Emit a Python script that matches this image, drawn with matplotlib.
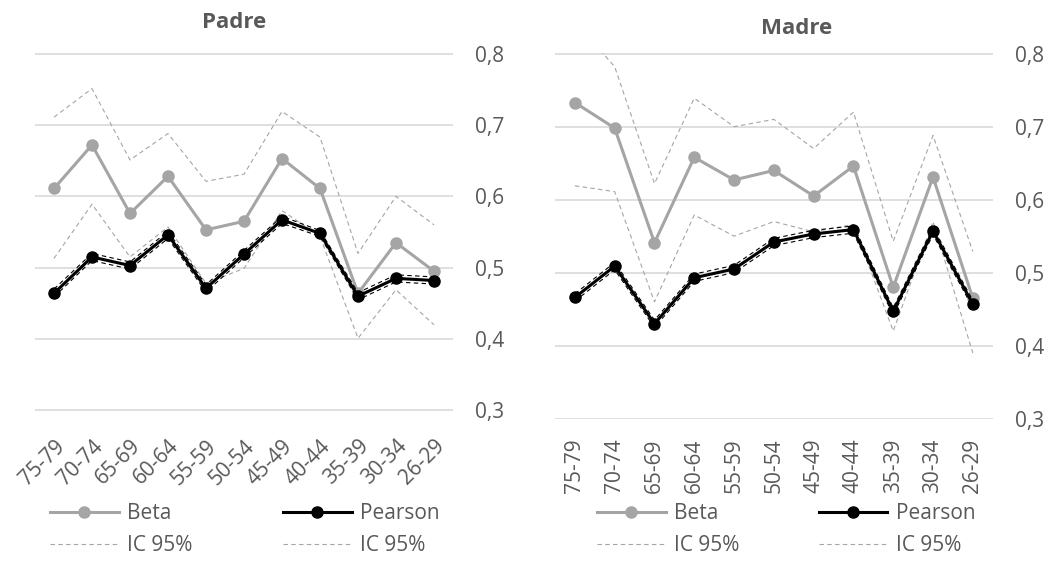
import numpy as np
import matplotlib
matplotlib.use("Agg")
import matplotlib.pyplot as plt
from matplotlib.lines import Line2D

plt.rcParams["font.family"] = ["Open Sans", "DejaVu Sans"]

grupos = ["75-79", "70-74", "65-69", "60-64", "55-59", "50-54",
          "45-49", "40-44", "35-39", "30-34", "26-29"]

# Padre
padre_beta = [0.611, 0.672, 0.576, 0.628, 0.553, 0.565, 0.653, 0.611, 0.464, 0.535, 0.495]
padre_beta_sup = [0.711, 0.751, 0.651, 0.688, 0.621, 0.631, 0.719, 0.683, 0.520, 0.600, 0.560]
padre_beta_inf = [0.513, 0.589, 0.515, 0.557, 0.478, 0.499, 0.580, 0.544, 0.401, 0.469, 0.420]
padre_pearson = [0.464, 0.515, 0.503, 0.546, 0.471, 0.519, 0.567, 0.548, 0.460, 0.485, 0.482]
padre_pearson_sup = [0.470, 0.520, 0.508, 0.551, 0.476, 0.524, 0.572, 0.552, 0.465, 0.490, 0.487]
padre_pearson_inf = [0.459, 0.510, 0.498, 0.541, 0.466, 0.514, 0.562, 0.544, 0.455, 0.480, 0.477]

# Madre
madre_beta = [0.733, 0.698, 0.541, 0.658, 0.627, 0.640, 0.605, 0.646, 0.480, 0.631, 0.465]
madre_beta_sup = [0.845, 0.782, 0.622, 0.739, 0.700, 0.710, 0.670, 0.720, 0.543, 0.688, 0.529]
madre_beta_inf = [0.619, 0.611, 0.460, 0.579, 0.550, 0.570, 0.556, 0.566, 0.420, 0.570, 0.390]
madre_pearson = [0.466, 0.509, 0.430, 0.493, 0.505, 0.542, 0.553, 0.559, 0.447, 0.557, 0.457]
madre_pearson_sup = [0.471, 0.514, 0.435, 0.498, 0.510, 0.547, 0.558, 0.564, 0.452, 0.562, 0.462]
madre_pearson_inf = [0.461, 0.504, 0.425, 0.488, 0.500, 0.537, 0.548, 0.554, 0.442, 0.552, 0.452]

GRIS = "#A5A5A5"
TEXTO = "#595959"
W, H = 1059, 561
FS = 15


def panel(fig, rect_px, titulo, title_xy, beta, b_sup, b_inf, pear, p_sup, p_inf,
          rot, xpad, leg_x, colsp):
    x0, y0, x1, y1 = rect_px
    ax = fig.add_axes([x0 / W, 1 - y1 / H, (x1 - x0) / W, (y1 - y0) / H])
    x = np.arange(len(grupos))

    ax.plot(x, b_sup, color=GRIS, lw=0.8, ls=(0, (4, 3)), zorder=2)
    ax.plot(x, b_inf, color=GRIS, lw=0.8, ls=(0, (4, 3)), zorder=2)
    ax.plot(x, beta, color=GRIS, lw=2.2, marker="o", ms=8, zorder=3)
    ax.plot(x, p_sup, color="black", lw=0.8, ls=(0, (4, 3)), zorder=4)
    ax.plot(x, p_inf, color="black", lw=0.8, ls=(0, (4, 3)), zorder=4)
    ax.plot(x, pear, color="black", lw=2.2, marker="o", ms=8, zorder=5)

    ax.set_xlim(-0.5, len(grupos) - 0.5)
    ax.set_ylim(0.2995, 0.8005)
    ax.set_yticks([0.3, 0.4, 0.5, 0.6, 0.7, 0.8])
    ax.set_yticklabels(["0,3", "0,4", "0,5", "0,6", "0,7", "0,8"])
    ax.yaxis.tick_right()
    ax.grid(axis="y", color="#D9D9D9", lw=1.2)
    ax.set_axisbelow(True)
    for s in ax.spines.values():
        s.set_visible(False)
    ax.tick_params(axis="y", length=0, pad=16, labelsize=FS, labelcolor=TEXTO)
    ax.set_xticks(x)
    if rot == 45:
        ax.set_xticklabels(grupos, rotation=45, ha="right", va="top",
                           rotation_mode="anchor")
    else:
        ax.set_xticklabels(grupos, rotation=90)
    ax.tick_params(axis="x", length=0, pad=xpad, labelsize=FS, labelcolor=TEXTO)

    fig.text(title_xy[0] / W, 1 - title_xy[1] / H, titulo, fontsize=16,
             fontweight="bold", color=TEXTO, ha="center", va="center")

    h_beta = Line2D([], [], color=GRIS, lw=2.2, marker="o", ms=8)
    h_pear = Line2D([], [], color="black", lw=2.2, marker="o", ms=8)
    h_ic1 = Line2D([], [], color=GRIS, lw=0.8, ls=(0, (4, 3)))
    h_ic2 = Line2D([], [], color=GRIS, lw=0.8, ls=(0, (4, 3)))
    fig.legend(handles=[h_beta, h_ic1, h_pear, h_ic2],
               labels=["Beta", "IC 95%", "Pearson", "IC 95%"],
               ncol=2, loc="upper left",
               bbox_to_anchor=(leg_x / W, 1 - 503 / H),
               frameon=False, fontsize=FS, labelcolor=TEXTO,
               handlelength=3.3, handletextpad=0.4, columnspacing=colsp,
               labelspacing=0.55, borderpad=0, borderaxespad=0)
    return ax


fig = plt.figure(figsize=(W / 100, H / 100), dpi=100)

panel(fig, (35, 53.3, 453, 410.7), "Padre", (234, 23),
      padre_beta, padre_beta_sup, padre_beta_inf,
      padre_pearson, padre_pearson_sup, padre_pearson_inf,
      45, 18, 50, 4.35)
panel(fig, (555, 53.3, 992.7, 419), "Madre", (797, 28),
      madre_beta, madre_beta_sup, madre_beta_inf,
      madre_pearson, madre_pearson_sup, madre_pearson_inf,
      90, 14, 597, 3.8)

fig.savefig("out.png", dpi=100)
